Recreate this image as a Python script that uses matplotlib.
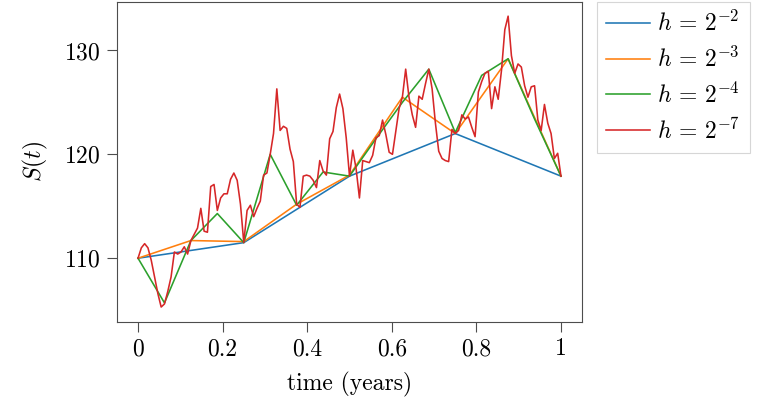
#!/usr/bin/env python3
# -*- coding: utf-8 -*-
"""
Sample path S(t) for different step sizes h
"""

import matplotlib
matplotlib.use('Agg')
import matplotlib.pyplot as plt
import numpy as np

'_____________ Data (read from the figure) ____________________________________ '

h_exponents = [2, 3, 4, 7]
labels      = [r'$h\,=\,2^{-%d}$' % e for e in h_exponents]
colors      = ['#1f77b4', '#ff7f0e', '#2ca02c', '#d62728']

S_h2 = [110.0, 111.5, 117.9, 122.0, 117.9]

S_h3 = [110.0, 111.7, 111.6, 115.2, 118.0, 125.5, 122.0, 129.2, 117.9]

S_h4 = [110.0, 105.7, 111.7, 114.3, 111.5, 120.0, 115.1, 118.3, 117.9,
        121.5, 125.0, 128.2, 122.1, 127.6, 129.2, 123.4, 117.9]

S_h7 = [110.0, 111.0, 111.4, 111.0, 109.8, 108.2, 106.6, 105.3,
        105.6, 106.8, 108.2, 110.6, 110.4, 110.6, 111.1, 110.4,
        111.7, 112.3, 112.9, 114.8, 112.6, 112.5, 116.9, 117.1,
        114.6, 115.8, 116.2, 116.2, 117.6, 118.2, 117.5, 115.2,
        111.5, 114.6, 115.1, 114.0, 114.8, 115.5, 118.0, 118.2,
        120.0, 122.0, 126.3, 122.3, 122.7, 122.5, 120.5, 119.3,
        115.2, 114.9, 117.9, 118.0, 117.9, 117.5, 116.8, 119.4,
        118.4, 118.0, 121.5, 122.2, 124.5, 125.8, 124.4, 121.6,
        117.9, 120.4, 118.6, 115.8, 119.4, 119.3, 119.2, 119.9,
        121.6, 121.8, 123.3, 121.9, 120.2, 120.0, 122.2, 124.4,
        125.5, 128.2, 125.5, 123.8, 122.6, 125.6, 125.3, 126.8,
        128.2, 126.3, 123.0, 120.3, 119.6, 119.4, 119.3, 122.4,
        122.0, 122.3, 123.8, 123.4, 123.6, 122.6, 121.7, 126.0,
        127.0, 127.8, 128.0, 124.4, 126.5, 125.3, 128.1, 132.0,
        133.3, 129.5, 127.8, 128.7, 128.4, 126.6, 125.5, 126.5,
        126.6, 123.3, 122.3, 124.8, 123.0, 122.0, 119.6, 120.1,
        117.9]

paths = [S_h2, S_h3, S_h4, S_h7]

x_ticks      = [0, 0.2, 0.4, 0.6, 0.8, 1]
x_ticklabels = ['0', '0.2', '0.4', '0.6', '0.8', '1']
y_ticks      = [110, 120, 130]

'_____________ Style ________________________________________________________ '

plt.rcParams['font.family']              = 'serif'
plt.rcParams['font.serif']               = ['cmr10', 'DejaVu Serif']
plt.rcParams['mathtext.fontset']         = 'cm'
plt.rcParams['axes.formatter.use_mathtext'] = True
plt.rcParams['font.size']                = 17

fig = plt.figure(figsize=(7.69, 4.04), dpi=100)
ax  = fig.add_axes([0.152, 0.204, 0.605, 0.792])

for e, S, col, lab in zip(h_exponents, paths, colors, labels):
    h = 2.0**(-e)
    t = np.arange(len(S)) * h
    ax.plot(t, S, '-', color=col, linewidth=1.15, label=lab)

ax.set_xticks(x_ticks)
ax.set_xticklabels(x_ticklabels)
ax.set_yticks(y_ticks)
ax.tick_params(direction='out', length=7, width=0.8, pad=5, color='0.3')
for sp in ax.spines.values():
    sp.set_color('0.3')
    sp.set_linewidth(0.8)

ax.set_xlabel('time (years)', labelpad=8)
ax.set_ylabel(r'$S(t)$', labelpad=10)

leg = ax.legend(loc='upper left', bbox_to_anchor=(1.032, 1.0),
                borderaxespad=0, fancybox=False, handlelength=1.85,
                handletextpad=0.3, labelspacing=0.45, borderpad=0.4)
leg.get_frame().set_edgecolor('#cccccc')
leg.get_frame().set_linewidth(0.8)

fig.savefig('out.png', dpi=100)
plt.close()
